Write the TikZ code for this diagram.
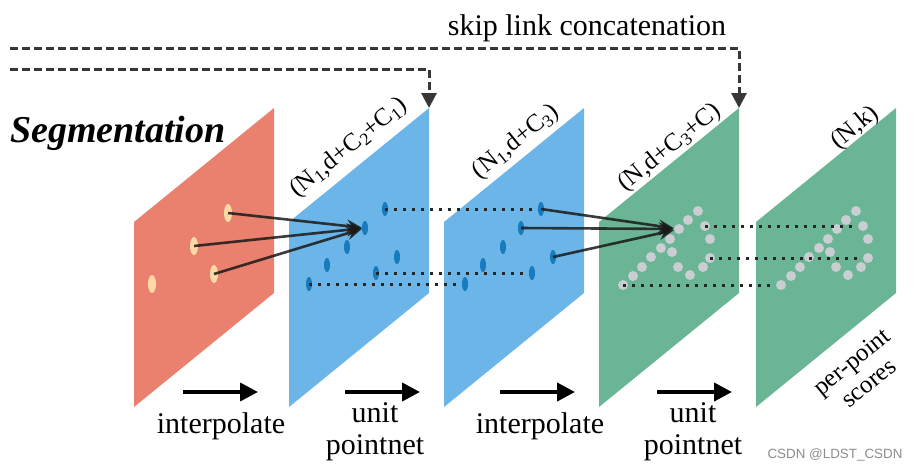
\documentclass[tikz,border=0pt]{standalone}
\usepackage{fontspec}
\setmainfont{Liberation Serif}
\newfontfamily\wmfont{Liberation Sans}
\usetikzlibrary{shapes.geometric, arrows.meta}

\definecolor{panelred}{RGB}{234,128,110}
\definecolor{panelblue}{RGB}{108,181,232}
\definecolor{panelgreen}{RGB}{106,181,149}
\definecolor{featdot}{RGB}{22,124,190}
\definecolor{inputdot}{RGB}{253,218,165}
\definecolor{outdot}{RGB}{202,206,210}
\definecolor{skipgray}{RGB}{55,55,55}

\begin{document}
\begin{tikzpicture}[
    x=1pt, y=-1pt,
    indot/.style={ellipse, fill=inputdot, minimum width=8pt, minimum height=18pt, inner sep=0pt},
    ftdot/.style={ellipse, fill=featdot, minimum width=6pt, minimum height=14pt, inner sep=0pt},
    ptdot/.style={circle, fill=outdot, minimum size=10pt, inner sep=0pt},
    featlink/.style={-{Stealth[length=15pt, width=13pt]}, line width=2.6pt, draw=black!90, opacity=0.85},
    matchline/.style={line width=3pt, dash pattern=on 3pt off 6pt, draw=black!85},
    skiplink/.style={line width=3pt, dash pattern=on 8pt off 4pt, draw=skipgray, -{Triangle[length=15pt, width=15pt]}},
    stepflow/.style={line width=4pt, -{Triangle[length=18pt, width=18pt]}},
    dimlabel/.style={rotate=39, font=\fontsize{25}{27}\selectfont, inner sep=0pt},
    steplabel/.style={align=center, font=\fontsize{30}{32}\selectfont, inner sep=0pt}
]
\useasboundingbox (0,0) rectangle (918,472);

\foreach \px/\pc [count=\i] in {134/panelred, 289/panelblue, 444/panelblue, 599/panelgreen, 756/panelgreen} {
    \fill[\pc] (\px,222) -- (\px+140,108) -- (\px+140,293) -- (\px,407) -- cycle;
    \coordinate (tr\i) at (\px+140,108);
}

\node[indot] (r1) at (228,213) {};
\node[indot] (r2) at (194,246) {};
\node[indot] (r3) at (214,274) {};
\node[indot] (r4) at (152,284) {};

\foreach \x/\y [count=\i] in {385/209, 365/228, 347/247, 327/265, 397/257, 376/273, 309/284} {
    \node[ftdot] (a\i) at (\x,\y) {};
    \node[ftdot] (b\i) at (\x+156,\y) {};
}

\foreach \x/\y [count=\i] in {698/211, 688/220, 705/226, 679/229, 670/239, 710/239, 661/248, 672/252,
                              710/258, 651/257, 642/267, 678/267, 703/267, 690/275, 633/276, 623/285} {
    \node[ptdot] (c\i) at (\x,\y) {};
    \node[ptdot] (d\i) at (\x+158,\y) {};
}

\draw[featlink] (r1.center) -- (a2);
\draw[featlink] (r2.center) -- (a2);
\draw[featlink] (r3.center) -- (a2);
\draw[featlink] (b1.center) -- (c4);
\draw[featlink] (b2.center) -- (c4);
\draw[featlink] (b5.center) -- (c4);

\draw[matchline] (a1.center) -- (b1);
\draw[matchline] (a6.center) -- (b6);
\draw[matchline] (a7.center) -- (b7);
\draw[matchline] (c3.center) -- (d3);
\draw[matchline] (c9.center) -- (d9);
\draw[matchline] (c16.center) -- (d16);

\coordinate (s1) at (10,48);
\coordinate (s2) at (10,69);
\draw[skiplink] (s1) -| (tr4);
\draw[skiplink] (s2) -| (tr2);
\node[font=\fontsize{30}{32}\selectfont, anchor=base, inner sep=0pt] (skiptext) at (587,35) {skip link concatenation};

\node[font=\fontsize{38}{40}\selectfont\bfseries\itshape, anchor=west, inner sep=0pt] (title) at (10,133) {Segmentation};

\node[dimlabel] (dim2) at (349,148) {(N\textsubscript{1},d+C\textsubscript{2}+C\textsubscript{1})};
\node[dimlabel] (dim3) at (516,142) {(N\textsubscript{1},d+C\textsubscript{3})};
\node[dimlabel] (dim4) at (670,148) {(N,d+C\textsubscript{3}+C)};
\node[dimlabel] (dim5) at (855,128) {(N,k)};
\node[dimlabel, align=center] (scores) at (860,372) {per-point\\scores};

\foreach \x [count=\i] in {183, 345, 500, 657} {
    \coordinate (fs\i) at (\x,392);
    \coordinate (fe\i) at (\x+75,392);
    \draw[stepflow] (fs\i) -- (fe\i);
}
\node[steplabel] (step1) at (221,426) {interpolate};
\node[steplabel] (step2) at (375,432) {unit\\pointnet};
\node[steplabel] (step3) at (540,426) {interpolate};
\node[steplabel] (step4) at (693,432) {unit\\pointnet};

\node[font=\wmfont\fontsize{13.4}{14}\selectfont, text=black!45] (mark) at (835,455) {CSDN @LDST\_CSDN};

\end{tikzpicture}
\end{document}
